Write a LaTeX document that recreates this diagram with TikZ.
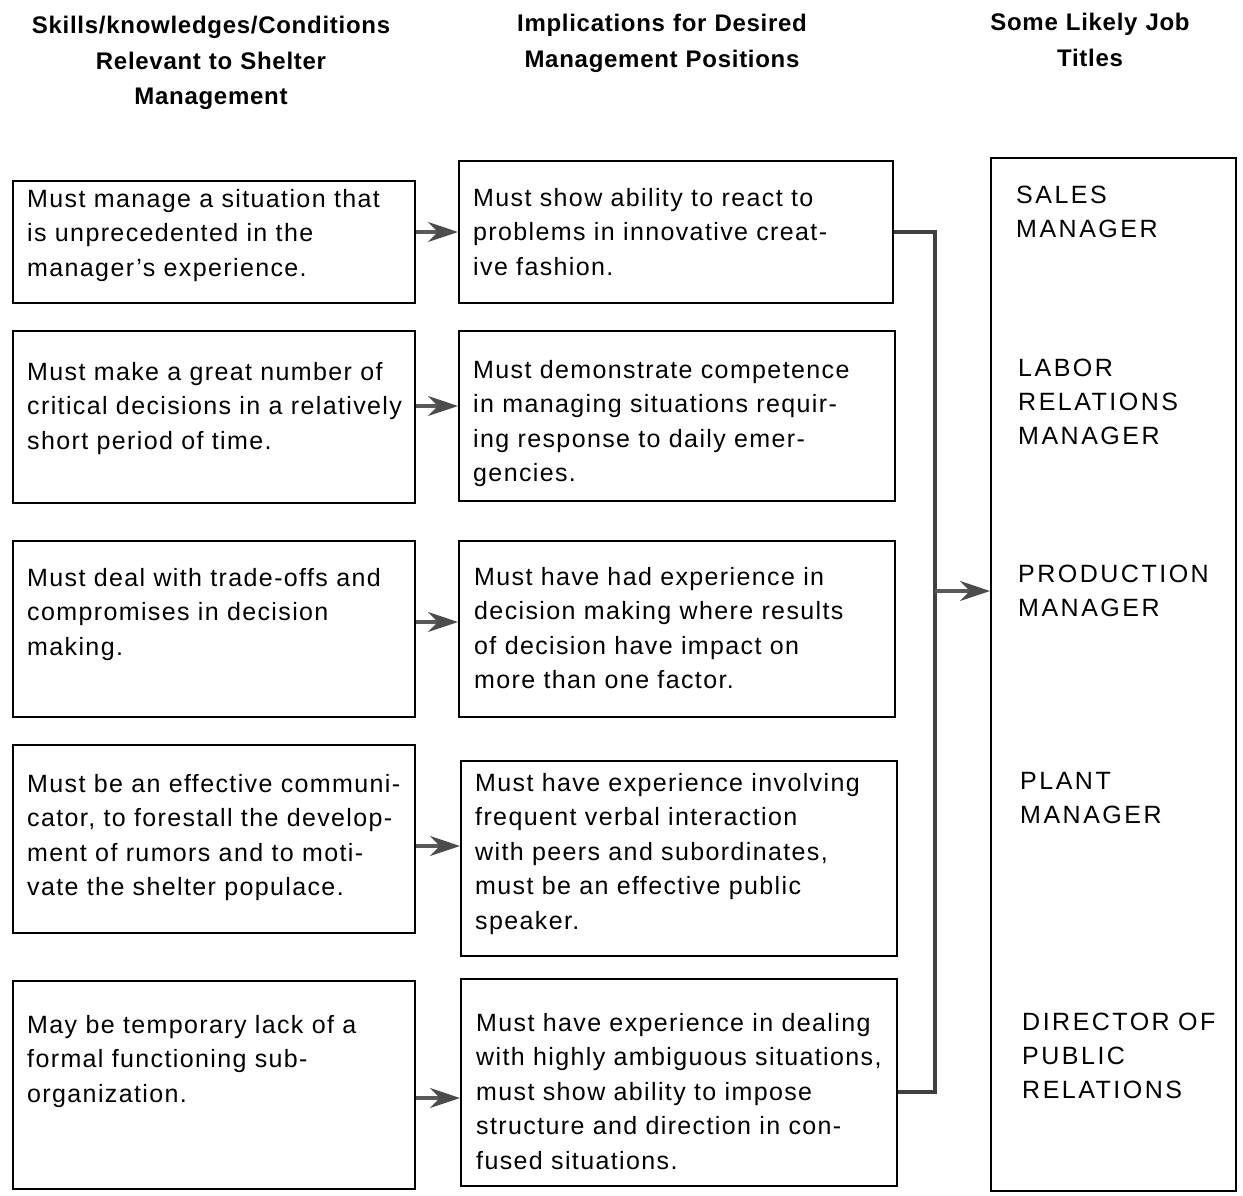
\documentclass[tikz,border=0pt]{standalone}
\usepackage{fontspec}
\setmainfont{Liberation Sans}
\newfontfamily\bodyfont{Liberation Sans}[LetterSpace=5.5]
\newfontfamily\capsfont{Liberation Sans}[LetterSpace=10]
\newfontfamily\headfont{Liberation Sans}[LetterSpace=3]
\usetikzlibrary{arrows.meta}
\begin{document}
\begin{tikzpicture}[x=1pt,y=-1pt,
  box/.style={draw=black,line width=2pt,rectangle,inner sep=0pt,anchor=north west},
  body/.style={anchor=base west,inner sep=0pt,text width=430pt,align=left,
    font=\bodyfont\fontsize{25}{34.6}\selectfont},
  jobtitle/.style={anchor=base west,inner sep=0pt,text width=220pt,align=left,
    font=\capsfont\fontsize{25}{34.2}\selectfont},
  head/.style={anchor=base,inner sep=0pt,text width=420pt,align=center,
    font=\headfont\bfseries\fontsize{24}{35.5}\selectfont},
  arr/.style={draw=black!65,line width=3.5pt,
    -{Stealth[length=30pt,width=20pt,inset=10pt,color=black!70,fill=black!70]}},
  bus/.style={draw=black!75,line width=3.5pt}]
\useasboundingbox (0,0) rectangle (1243,1195);

% column headings
\node[head] (h1) at (211,33.5) {Skills/knowledges/Conditions\\Relevant to Shelter\\Management};
\node[head] (h2) at (662,31.5) {Implications for Desired\\Management Positions};
\node[head] (h3) at (1090,30.5) {Some Likely Job\\Titles};

% left column: conditions
\node[box,minimum width=402pt,minimum height=122pt] (l1) at (12,180) {};
\node[box,minimum width=402pt,minimum height=172pt] (l2) at (12,330) {};
\node[box,minimum width=402pt,minimum height=176pt] (l3) at (12,540) {};
\node[box,minimum width=402pt,minimum height=188pt] (l4) at (12,744) {};
\node[box,minimum width=402pt,minimum height=208pt] (l5) at (12,980) {};

\node[body] (tl1) at (27,207) {Must manage a situation that\\is unprecedented in the\\manager’s experience.};
\node[body] (tl2) at (27,380) {Must make a great number of\\critical decisions in a relatively\\short period of time.};
\node[body] (tl3) at (27,586) {Must deal with trade-offs and\\compromises in decision\\making.};
\node[body] (tl4) at (27,792) {Must be an effective communi-\\cator, to forestall the develop-\\ment of rumors and to moti-\\vate the shelter populace.};
\node[body] (tl5) at (27,1033) {May be temporary lack of a\\formal functioning sub-\\organization.};

% middle column: implications
\node[box,minimum width=434pt,minimum height=142pt] (m1) at (458,160) {};
\node[box,minimum width=436pt,minimum height=170pt] (m2) at (458,330) {};
\node[box,minimum width=436pt,minimum height=176pt] (m3) at (458,540) {};
\node[box,minimum width=436pt,minimum height=195pt] (m4) at (460,760) {};
\node[box,minimum width=436pt,minimum height=207pt] (m5) at (460,978) {};

\node[body] (tm1) at (473,206) {Must show ability to react to\\problems in innovative creat-\\ive fashion.};
\node[body] (tm2) at (473,378) {Must demonstrate competence\\in managing situations requir-\\ing response to daily emer-\\gencies.};
\node[body] (tm3) at (474,585) {Must have had experience in\\decision making where results\\of decision have impact on\\more than one factor.};
\node[body] (tm4) at (475,791) {Must have experience involving\\frequent verbal interaction\\with peers and subordinates,\\must be an effective public\\speaker.};
\node[body] (tm5) at (476,1031) {Must have experience in dealing\\with highly ambiguous situations,\\must show ability to impose\\structure and direction in con-\\fused situations.};

% right column: job titles
\node[box,minimum width=245pt,minimum height=1033pt] (jobs) at (990,157) {};
\node[jobtitle] (j1) at (1016,203) {SALES\\MANAGER};
\node[jobtitle] (j2) at (1018,376) {LABOR\\RELATIONS\\MANAGER};
\node[jobtitle] (j3) at (1018,582) {PRODUCTION\\MANAGER};
\node[jobtitle] (j4) at (1020,789) {PLANT\\MANAGER};
\node[jobtitle] (j5) at (1022,1030) {DIRECTOR OF\\PUBLIC\\RELATIONS};

% arrows from conditions to implications
\draw[arr] (l1.east |- 0,232) -- (m1.west |- 0,232);
\draw[arr] (l2.east |- 0,406) -- (m2.west |- 0,406);
\draw[arr] (l3.east |- 0,622) -- (m3.west |- 0,622);
\draw[arr] (l4.east |- 0,846) -- (m4.west |- 0,846);
\draw[arr] (l5.east |- 0,1098) -- (m5.west |- 0,1098);

% collecting bus from the first and last implication into the job titles
\coordinate (bt) at (935,232);
\coordinate (bb) at (935,1092);
\coordinate (bj) at (935,591);
\draw[bus] (m1.east |- bt) -- (bt) -- (bb) -- (m5.east |- bb);
\draw[arr] (bj) -- (jobs.west |- bj);
\end{tikzpicture}
\end{document}
